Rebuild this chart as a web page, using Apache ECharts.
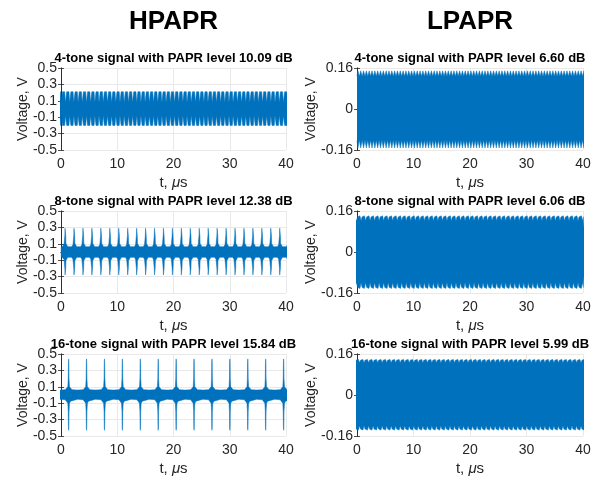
<!DOCTYPE html>
<html>
<head>
<meta charset="utf-8">
<script src="https://cdn.jsdelivr.net/npm/echarts@6/dist/echarts.min.js"></script>
<style>
  html, body { margin: 0; padding: 0; background: #fff; }
  #chart { width: 598px; height: 477px; }
</style>
</head>
<body>
<div id="chart"></div>
<script>
// ---- Text ----
const columnTitles = ['HPAPR', 'LPAPR'];
const panelTitles = [
  '4-tone signal with PAPR level 10.09 dB', '4-tone signal with PAPR level 6.60 dB',
  '8-tone signal with PAPR level 12.38 dB', '8-tone signal with PAPR level 6.06 dB',
  '16-tone signal with PAPR level 15.84 dB', '16-tone signal with PAPR level 5.99 dB'
];
const timeLabel = 't, {m|μ}s';
const voltLabel = 'Voltage, V';

// ---- Axes ----
const timeRange = [0, 40];
const timeStep = 10;
const hpaprVoltRange = [-0.5, 0.5];
const hpaprVoltStep = 0.2;
const lpaprVoltRange = [-0.16, 0.16];
const lpaprVoltStep = 0.16;

// ---- Signal envelopes (µs, V) ----
// Each waveform is described by the times of its repeating envelope events
// and the upper / lower envelope levels around every event.

// 4-tone, high PAPR: bursts
const hp4Times = [-0.29, 0.46, 1.21, 1.95, 2.70, 3.44, 4.19, 4.93, 5.68, 6.42, 7.17, 7.91, 8.66, 9.40,
  10.15, 10.89, 11.64, 12.38, 13.13, 13.87, 14.62, 15.36, 16.11, 16.85, 17.60, 18.34, 19.09, 19.83,
  20.58, 21.32, 22.07, 22.81, 23.56, 24.30, 25.05, 25.79, 26.54, 27.28, 28.03, 28.77, 29.52,
  30.26, 31.01, 31.75, 32.50, 33.24, 33.99, 34.73, 35.48, 36.22, 36.97, 37.71, 38.46, 39.20, 39.95];
const hp4Offsets = [-0.33, -0.2, 0, 0.2, 0.33];
const hp4Upper = [0.08, 0.21, 0.225, 0.21, 0.08];
const hp4Lower = [-0.08, -0.2, -0.21, -0.2, -0.08];

// 8-tone, high PAPR: peaks
const hp8Times = [0.76, 2.35, 3.94, 5.53, 7.12, 8.71, 10.30, 11.89, 13.48, 15.07, 16.66, 18.25, 19.84,
  21.43, 23.02, 24.61, 26.20, 27.79, 29.38, 30.97, 32.56, 34.15, 35.74, 37.33, 38.92, 40.51];
const hp8Offsets = [-0.79, -0.45, -0.22, -0.12, -0.08, -0.04, 0, 0.04, 0.08, 0.12, 0.22, 0.45, 0.79];
const hp8Upper = [0.05, 0.065, 0.09, 0.105, 0.2, 0.29, 0.3, 0.29, 0.2, 0.105, 0.09, 0.065, 0.05];
const hp8Lower = [-0.05, -0.065, -0.09, -0.105, -0.2, -0.28, -0.29, -0.28, -0.2, -0.105, -0.09, -0.065, -0.05];

// 16-tone, high PAPR: peaks
const hp16Times = [1.36, 4.54, 7.73, 10.91, 14.10, 17.28, 20.47, 23.65, 26.84, 30.02, 33.21, 36.39, 39.58];
const hp16Offsets = [-1.59, -0.6, -0.35, -0.15, -0.07, -0.035, 0, 0.035, 0.07, 0.15, 0.35, 0.6, 1.59];
const hp16Upper = [0.06, 0.065, 0.08, 0.1, 0.2, 0.41, 0.44, 0.41, 0.2, 0.1, 0.08, 0.065, 0.06];
const hp16Lower = [-0.052, -0.058, -0.075, -0.1, -0.2, -0.4, -0.43, -0.4, -0.2, -0.1, -0.075, -0.058, -0.052];

// 4-tone, low PAPR: edge teeth
const lp4Times = [0.25, 0.75, 1.25, 1.75, 2.25, 2.75, 3.25, 3.75, 4.25, 4.75, 5.25, 5.75, 6.25, 6.75,
  7.25, 7.75, 8.25, 8.75, 9.25, 9.75, 10.25, 10.75, 11.25, 11.75, 12.25, 12.75, 13.25, 13.75,
  14.25, 14.75, 15.25, 15.75, 16.25, 16.75, 17.25, 17.75, 18.25, 18.75, 19.25, 19.75, 20.25,
  20.75, 21.25, 21.75, 22.25, 22.75, 23.25, 23.75, 24.25, 24.75, 25.25, 25.75, 26.25, 26.75,
  27.25, 27.75, 28.25, 28.75, 29.25, 29.75, 30.25, 30.75, 31.25, 31.75, 32.25, 32.75, 33.25,
  33.75, 34.25, 34.75, 35.25, 35.75, 36.25, 36.75, 37.25, 37.75, 38.25, 38.75, 39.25, 39.75, 40.25];
const lp4Offsets = [-0.25, -0.16, -0.09, 0.09, 0.16, 0.25];
const lp4Upper = [0.128, 0.128, 0.149, 0.149, 0.128, 0.128];
const lp4Lower = [-0.122, -0.122, -0.152, -0.152, -0.122, -0.122];

// 8-tone, low PAPR: edge notches
const lp8Times = [-0.03, 0.77, 1.57, 2.37, 3.17, 3.97, 4.77, 5.57, 6.37, 7.17, 7.97, 8.77, 9.57, 10.37,
  11.17, 11.97, 12.77, 13.57, 14.37, 15.17, 15.97, 16.77, 17.57, 18.37, 19.17, 19.97, 20.77, 21.57,
  22.37, 23.17, 23.97, 24.77, 25.57, 26.37, 27.17, 27.97, 28.77, 29.57, 30.37, 31.17, 31.97, 32.77,
  33.57, 34.37, 35.17, 35.97, 36.77, 37.57, 38.37, 39.17, 39.97];
const lp8Offsets = [-0.4, -0.25, -0.12, -0.05, 0, 0.05, 0.12, 0.25, 0.4];
const lp8Upper = [0.138, 0.141, 0.137, 0.122, 0.118, 0.122, 0.137, 0.141, 0.138];
const lp8Lower = [-0.139, -0.142, -0.138, -0.119, -0.115, -0.119, -0.138, -0.142, -0.139];

// 16-tone, low PAPR: edge notches
const lp16Times = [-0.3, 0.5, 1.3, 2.1, 2.9, 3.7, 4.5, 5.3, 6.1, 6.9, 7.7, 8.5, 9.3, 10.1, 10.9, 11.7,
  12.5, 13.3, 14.1, 14.9, 15.7, 16.5, 17.3, 18.1, 18.9, 19.7, 20.5, 21.3, 22.1, 22.9, 23.7, 24.5,
  25.3, 26.1, 26.9, 27.7, 28.5, 29.3, 30.1, 30.9, 31.7, 32.5, 33.3, 34.1, 34.9, 35.7, 36.5, 37.3,
  38.1, 38.9, 39.7, 40.5];
const lp16Offsets = [-0.4, -0.25, -0.12, -0.05, 0, 0.05, 0.12, 0.25, 0.4];
const lp16Upper = [0.137, 0.139, 0.136, 0.126, 0.123, 0.126, 0.136, 0.139, 0.137];
const lp16Lower = [-0.134, -0.137, -0.133, -0.12, -0.117, -0.12, -0.133, -0.137, -0.134];

// ---- Build envelope polylines ----
function envelope(times, offsets, levels) {
  const pts = [];
  times.forEach(t => offsets.forEach((dt, i) => pts.push([Math.round((t + dt) * 1000) / 1000, levels[i]])));
  pts.sort((a, b) => a[0] - b[0]);
  return pts;
}

const panels = [
  { col: 0, row: 0, hi: envelope(hp4Times, hp4Offsets, hp4Upper), lo: envelope(hp4Times, hp4Offsets, hp4Lower) },
  { col: 1, row: 0, hi: envelope(lp4Times, lp4Offsets, lp4Upper), lo: envelope(lp4Times, lp4Offsets, lp4Lower) },
  { col: 0, row: 1, hi: envelope(hp8Times, hp8Offsets, hp8Upper), lo: envelope(hp8Times, hp8Offsets, hp8Lower) },
  { col: 1, row: 1, hi: envelope(lp8Times, lp8Offsets, lp8Upper), lo: envelope(lp8Times, lp8Offsets, lp8Lower) },
  { col: 0, row: 2, hi: envelope(hp16Times, hp16Offsets, hp16Upper), lo: envelope(hp16Times, hp16Offsets, hp16Lower) },
  { col: 1, row: 2, hi: envelope(lp16Times, lp16Offsets, lp16Upper), lo: envelope(lp16Times, lp16Offsets, lp16Lower) }
];

// ---- Layout (px) ----
const colLeft = [61, 357];
const colWidth = [225, 226];
const rowTop = [68, 211, 354];
const rowHeight = 82;

const FONT = '"Liberation Sans", Arial, Helvetica, sans-serif';
const INK = '#262626';
const BLUE = '#0072BD';
const GRID = '#e3e3e3';

const fmt = v => String(Math.round(v * 100) / 100);

const grid = [], xAxis = [], yAxis = [], series = [], graphic = [];

panels.forEach((p, i) => {
  const left = colLeft[p.col], width = colWidth[p.col], top = rowTop[p.row];
  const hp = p.col === 0;
  grid.push({ left, top, width, height: rowHeight, containLabel: false });

  const tickStyle = { inside: true, length: 3, lineStyle: { color: INK, width: 0.8 } };
  const lineStyle = { show: true, lineStyle: { color: INK, width: 0.8 } };

  xAxis.push({
    type: 'value', gridIndex: i, min: timeRange[0], max: timeRange[1], interval: timeStep,
    axisLine: lineStyle, axisTick: tickStyle,
    axisLabel: { color: INK, fontSize: 14, fontFamily: FONT, margin: 7 },
    splitLine: { show: true, lineStyle: { color: GRID, width: 0.8 } }
  });
  xAxis.push({
    type: 'value', gridIndex: i, position: 'top', min: timeRange[0], max: timeRange[1], interval: timeStep,
    axisLine: lineStyle, axisTick: tickStyle, axisLabel: { show: false }, splitLine: { show: false }
  });

  const yr = hp ? hpaprVoltRange : lpaprVoltRange;
  const ys = hp ? hpaprVoltStep : lpaprVoltStep;
  yAxis.push({
    type: 'value', gridIndex: i, min: yr[0], max: yr[1], interval: ys,
    axisLine: lineStyle, axisTick: tickStyle,
    axisLabel: { color: INK, fontSize: 14, fontFamily: FONT, margin: 4, formatter: fmt },
    splitLine: { show: true, lineStyle: { color: GRID, width: 0.8 } }
  });
  yAxis.push({
    type: 'value', gridIndex: i, position: 'right', min: yr[0], max: yr[1], interval: ys,
    axisLine: lineStyle, axisTick: tickStyle, axisLabel: { show: false }, splitLine: { show: false }
  });

  [p.hi, p.lo].forEach(data => series.push({
    type: 'line', xAxisIndex: 2 * i, yAxisIndex: 2 * i, data,
    showSymbol: false, symbol: 'none', silent: true, clip: true,
    lineStyle: { color: BLUE, width: 0.5 },
    areaStyle: { color: BLUE, opacity: 1, origin: 0 },
    z: 5
  }));

  const cx = left + width / 2;
  graphic.push({
    type: 'text', x: cx, y: top - 10,
    style: { text: panelTitles[i], font: 'bold 13px ' + FONT, fill: '#000', align: 'center', verticalAlign: 'middle' }
  });
  graphic.push({
    type: 'text', x: cx, y: top + rowHeight + 33,
    style: {
      text: timeLabel, font: '15px ' + FONT, fill: INK, align: 'center', verticalAlign: 'middle',
      rich: { m: { fontStyle: 'italic', fontSize: 15, fontFamily: FONT, fill: INK } }
    }
  });
  graphic.push({
    type: 'text', x: hp ? 23.5 : 311.5, y: top + rowHeight / 2, rotation: Math.PI / 2,
    style: { text: voltLabel, font: '14px ' + FONT, fill: INK, align: 'center', verticalAlign: 'middle' }
  });
});

graphic.push({ type: 'text', x: 173.5, y: 22, style: { text: columnTitles[0], font: 'bold 26px ' + FONT, fill: '#000', align: 'center', verticalAlign: 'middle' } });
graphic.push({ type: 'text', x: 470, y: 22, style: { text: columnTitles[1], font: 'bold 26px ' + FONT, fill: '#000', align: 'center', verticalAlign: 'middle' } });

const chart = echarts.init(document.getElementById('chart'), null, { renderer: 'canvas' });
chart.setOption({
  animation: false,
  backgroundColor: '#fff',
  grid, xAxis, yAxis, series, graphic
});
</script>
</body>
</html>
